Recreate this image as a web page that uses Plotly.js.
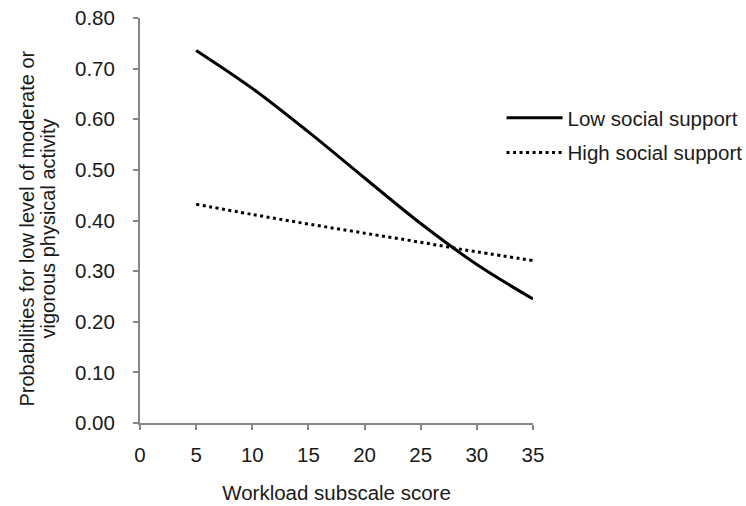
<!DOCTYPE html>
<html>
<head>
<meta charset="utf-8">
<script src="https://cdn.plot.ly/plotly-3.0.1.min.js"></script>
<style>html,body{margin:0;padding:0;background:#fff;}#chart{width:746px;height:506px;}</style>
</head>
<body>
<div id="chart"></div>
<script>
const workload = [5, 10, 15, 20, 25, 30, 35];
const lowSupport = [0.736, 0.661, 0.575, 0.484, 0.394, 0.313, 0.245];
const highSupport = [0.432, 0.412, 0.393, 0.375, 0.357, 0.338, 0.321];
const seriesNames = ["Low social support", "High social support"];
const xTicks = [0, 5, 10, 15, 20, 25, 30, 35];
const yTicks = [0, 0.1, 0.2, 0.3, 0.4, 0.5, 0.6, 0.7, 0.8];
const yTickText = ["0.00", "0.10", "0.20", "0.30", "0.40", "0.50", "0.60", "0.70", "0.80"];
const xTitle = "Workload subscale score";
const yTitleLines = ["Probabilities for low level of moderate or", "vigorous physical activity"];

const font = "Liberation Sans, Arial, sans-serif";
const fs = 20.5;
const axisColor = "#868686";
const textColor = "#1a1a1a";

const traces = [
  {x: workload, y: lowSupport, name: seriesNames[0], mode: "lines", legendgroup: "a",
   line: {color: "#000", width: 3, shape: "spline"}},
  {x: workload, y: highSupport, name: seriesNames[1], mode: "lines", legendgroup: "b",
   line: {color: "#000", width: 3, dash: "3px,3.5px", shape: "spline"}}
];

const layout = {
  width: 746, height: 506,
  margin: {l: 140, r: 213, t: 18, b: 83, autoexpand: false},
  paper_bgcolor: "#fff", plot_bgcolor: "#fff",
  font: {family: font, size: fs, color: textColor},
  showlegend: true,
  legend: {x: 0.92, xanchor: "left", y: 0.71, yanchor: "middle", tracegroupgap: 5,
           itemwidth: 56,
           font: {family: font, size: fs, color: textColor}, bgcolor: "rgba(0,0,0,0)"},
  xaxis: {range: [0, 35], tickvals: xTicks, ticktext: xTicks.map(String),
          showgrid: false, zeroline: false, showline: true, linecolor: axisColor, linewidth: 2,
          ticks: "outside", ticklen: 5, tickwidth: 2, tickcolor: axisColor,
          ticklabelstandoff: 7,
          tickfont: {family: font, size: fs, color: textColor},
          title: {text: xTitle, font: {family: font, size: fs, color: textColor}, standoff: 21}},
  yaxis: {range: [0, 0.8], tickvals: yTicks, ticktext: yTickText,
          showgrid: false, zeroline: false, showline: true, linecolor: axisColor, linewidth: 2,
          ticks: "outside", ticklen: 5, tickwidth: 2, tickcolor: axisColor,
          ticklabelstandoff: 14,
          tickfont: {family: font, size: fs, color: textColor}},
  annotations: [
    {text: yTitleLines[0], xref: "paper", yref: "paper", x: 0, y: 0.5, xshift: -114, yshift: -8,
     xanchor: "center", yanchor: "middle", textangle: -90, showarrow: false,
     font: {family: font, size: 20, color: textColor}},
    {text: yTitleLines[1], xref: "paper", yref: "paper", x: 0, y: 0.5, xshift: -93, yshift: -8,
     xanchor: "center", yanchor: "middle", textangle: -90, showarrow: false,
     font: {family: font, size: 20, color: textColor}}
  ]
};

Plotly.newPlot("chart", traces, layout, {displayModeBar: false, staticPlot: true});
</script>
</body>
</html>
